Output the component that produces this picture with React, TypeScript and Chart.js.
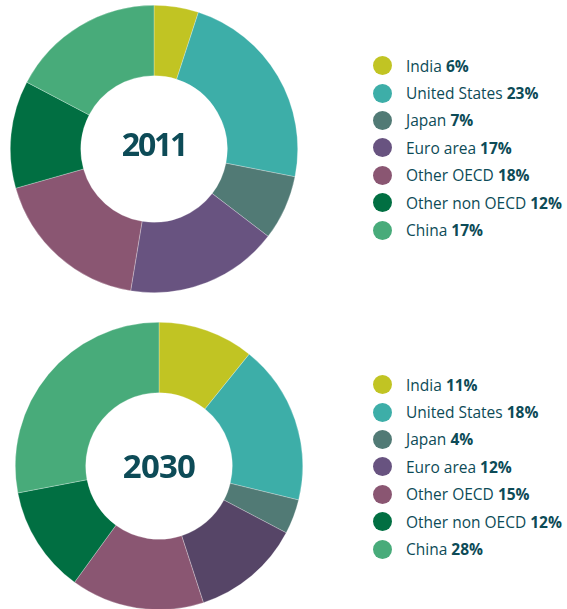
import React, { useEffect, useRef } from "react";
import { Chart, registerables } from "chart.js";

Chart.register(...registerables);

const categories = ["India", "United States", "Japan", "Euro area", "Other OECD", "Other non OECD", "China"];
// slice shares
const shares2011 = [5, 23.1, 7.3, 17.2, 18, 12.1, 17.3];
const shares2030 = [10.8, 18, 3.9, 12.3, 15, 12, 28];
// legend percentages as printed
const legend2011 = [6, 23, 7, 17, 18, 12, 17];
const legend2030 = [11, 18, 4, 12, 15, 12, 28];
const colors = ["#c1c423", "#3daea8", "#517a75", "#685380", "#8a5672", "#016f42", "#48ab7a"];
const colors2030 = ["#c1c423", "#3daea8", "#517a75", "#564567", "#8a5672", "#016f42", "#48ab7a"];
const years = ["2011", "2030"];

const TEXT = "#0d4b57";

function Donut({ values, sliceColors, left, top, size, year, textShift, spacing, fontSize }: any) {
  const ref = useRef<HTMLCanvasElement>(null);
  useEffect(() => {
    const chart = new Chart(ref.current!, {
      type: "doughnut",
      data: {
        labels: categories,
        datasets: [
          {
            data: values,
            backgroundColor: sliceColors,
            borderColor: "rgba(255,255,255,0.45)",
            borderWidth: 0.6,
          },
        ],
      },
      options: {
        animation: false,
        responsive: true,
        maintainAspectRatio: false,
        cutout: "51%",
        layout: { padding: 0 },
        plugins: { legend: { display: false }, tooltip: { enabled: false } },
      },
    });
    return () => chart.destroy();
  }, []);
  return (
    <div style={{ position: "absolute", left, top, width: size, height: size }}>
      <canvas ref={ref} />
      <div
        style={{
          position: "absolute",
          left: 0,
          top: textShift,
          width: size,
          height: size,
          display: "flex",
          alignItems: "center",
          justifyContent: "center",
          fontFamily: "'Open Sans', sans-serif",
          fontWeight: 700,
          fontSize,
          letterSpacing: spacing,
          color: TEXT,
        }}
      >
        {year}
      </div>
    </div>
  );
}

function Legend({ values, left, top }: any) {
  return (
    <div style={{ position: "absolute", left, top, fontFamily: "'Open Sans', sans-serif", fontSize: 15.5 }}>
      {categories.map((c, i) => (
        <div key={c} style={{ display: "flex", alignItems: "center", height: 27.4 }}>
          <span
            style={{
              display: "inline-block",
              width: 19,
              height: 19,
              borderRadius: "50%",
              background: colors[i],
              marginRight: 14,
            }}
          />
          <span style={{ color: TEXT }}>
            {c} <b style={{ fontWeight: 700 }}>{values[i]}%</b>
          </span>
        </div>
      ))}
    </div>
  );
}

export default function App() {
  return (
    <div style={{ position: "absolute", left: 0, top: 0, width: 567, height: 609, background: "#fff", overflow: "hidden" }}>
      <Donut values={shares2011} sliceColors={colors} left={10} top={5} size={288} year={years[0]} textShift={-6} spacing={-2.2} fontSize={32} />
      <Donut values={shares2030} sliceColors={colors2030} left={15} top={322} size={288} year={years[1]} textShift={-1} spacing={-0.8} fontSize={33} />
      <Legend values={legend2011} left={373} top={52} />
      <Legend values={legend2030} left={373} top={371} />
    </div>
  );
}
